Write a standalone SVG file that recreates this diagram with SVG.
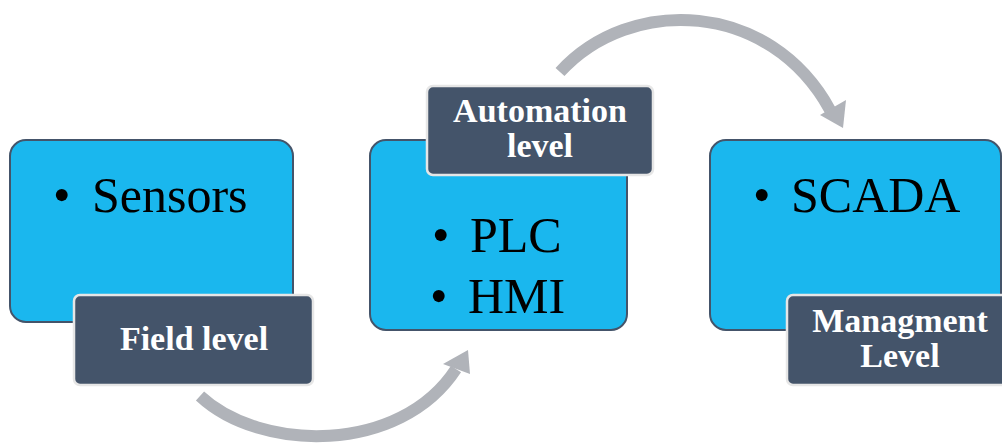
<svg xmlns="http://www.w3.org/2000/svg" width="1002" height="443" viewBox="0 0 1002 443">
<style>
.box{fill:#1ab7ee;stroke:#44546a;stroke-width:2}
.lab{fill:#44546a;stroke:#e6e6e6;stroke-width:2.5}
.big{font-size:50px;fill:#000}
.lt{font-size:34px;font-weight:bold;fill:#fff;text-anchor:middle}
.arc{fill:none;stroke:#b0b3b9;stroke-width:12}
.head{fill:#b0b3b9}
</style>
<rect width="1002" height="443" fill="#fff"/>
<g id="connectors">
<path class="arc" d="M 200 396 C 260 452, 400 455, 456 369"/>
<polygon class="head" points="468,350 470,374 443,364"/>
<path class="arc" d="M 560 72 C 630 -5, 770 0, 830 110"/>
<polygon class="head" points="843,128 846,100 820,115"/>
</g>
<g font-family="Liberation Serif, Times New Roman, serif">
<g id="field">
<rect class="box" x="10" y="140" width="283" height="182" rx="16"/>
<text class="big" x="53" y="212">•</text>
<text class="big" x="92" y="212">Sensors</text>
<rect class="lab" x="74" y="295" width="239" height="90" rx="6"/>
<text class="lt" x="194" y="350">Field level</text>
</g>
<g id="automation">
<rect class="box" x="370" y="140" width="257" height="190" rx="16"/>
<text class="big" x="432" y="252">•</text>
<text class="big" x="470" y="252">PLC</text>
<text class="big" x="430" y="313">•</text>
<text class="big" x="468" y="313">HMI</text>
<rect class="lab" x="427" y="86" width="226" height="89" rx="6"/>
<text class="lt" x="540" y="122">Automation</text>
<text class="lt" x="540" y="157">level</text>
</g>
<g id="management">
<rect class="box" x="710" y="140" width="291" height="190" rx="16"/>
<text class="big" x="753" y="212">•</text>
<text class="big" x="791" y="212">SCADA</text>
<rect class="lab" x="787" y="295" width="226" height="90" rx="6"/>
<text class="lt" x="900" y="332">Managment</text>
<text class="lt" x="900" y="367">Level</text>
</g>
</g>
</svg>
